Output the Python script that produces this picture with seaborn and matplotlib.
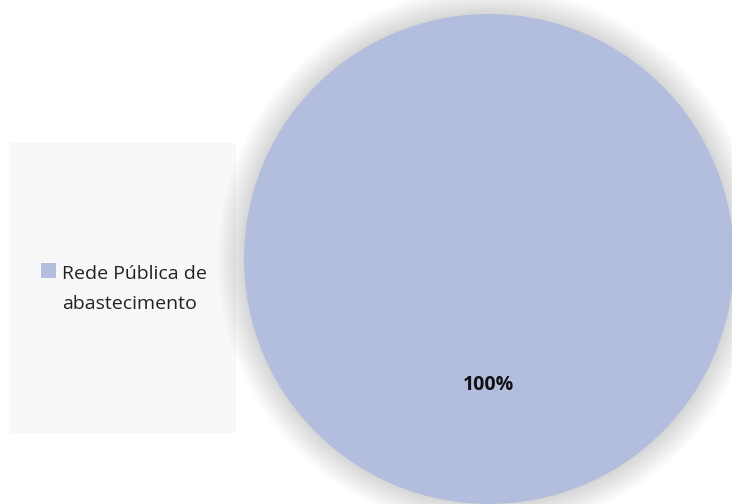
import matplotlib
matplotlib.use("Agg")
import matplotlib.pyplot as plt
import seaborn as sns
from matplotlib.patches import Circle, Rectangle

# dados
categorias = ["Rede Pública de\nabastecimento"]
valores = [100]
cores = ["#b3bdde"]

sns.set_theme(style="white")
plt.rcParams["font.family"] = ["Open Sans", "DejaVu Sans"]

fig = plt.figure(figsize=(7.32, 5.04), dpi=100)
ax = fig.add_axes([0, 0, 1, 1])

# sombra suave em volta da pizza
for i in range(20):
    r = 1.0 + 0.0055 * (20 - i)
    ax.add_patch(Circle((0, 0.0), r, color="black", alpha=0.008, lw=0, zorder=0))

wedges, textos, autotextos = ax.pie(
    valores, colors=cores, startangle=90, radius=1.0,
    autopct="%1.0f%%", pctdistance=0.515,
    wedgeprops=dict(linewidth=0),
    textprops=dict(fontsize=14, fontweight="bold", color="#111111"),
)
for w in wedges:
    w.set_zorder(2)
for t in autotextos:
    t.set_zorder(3)

ax.set_xlim(-1.996, 0.992)
ax.set_ylim(-1.0, 1.057)
ax.set_aspect("equal")
ax.axis("off")

# caixa da legenda
fig.patches.append(Rectangle((9 / 732, 1 - 433 / 504), 227 / 732, 290 / 504,
                             transform=fig.transFigure, facecolor="#f8f8f8",
                             edgecolor="none", zorder=-1))
leg = fig.legend(wedges, categorias, loc="center left",
                 bbox_to_anchor=(23 / 732, 1 - 289 / 504), frameon=False,
                 fontsize=14, handlelength=0.82, handleheight=0.82,
                 handletextpad=0.3, labelspacing=0.5)
for t in leg.get_texts():
    t.set_color("#222222")
    t.set_linespacing(1.8)
# quadradinho alinhado com a primeira linha
for h in leg.legend_handles:
    h.set_y(h.get_y() + 13.5)

fig.savefig("out.png", dpi=100)
